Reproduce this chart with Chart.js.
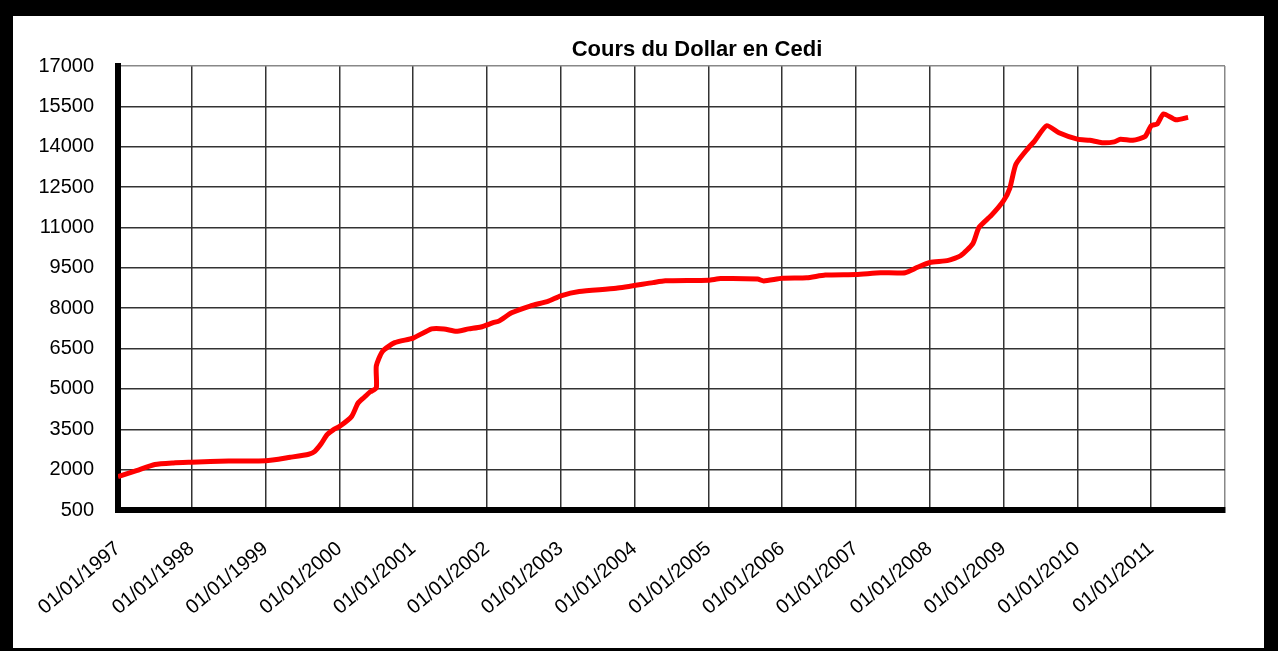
<!DOCTYPE html>
<html lang="fr">
<head>
  <meta charset="UTF-8" />
  <title>Cours du Dollar en Cedi</title>
  <script src="https://cdn.jsdelivr.net/npm/chart.js"></script>
  <style>
    body {
      margin: 0;
      background: #fff;
    }
    .cadre {
      width: 1251px;
      height: 632px;
      border-style: solid;
      border-color: #000;
      border-width: 16px 14px 3px 13px;
      background: #fff;
    }
  </style>
</head>
<body>
  <div class="cadre">
    <canvas id="graphique" width="1251" height="632"></canvas>
  </div>

  <script>
    const titre = "Cours du Dollar en Cedi";

    // étiquettes de l'axe des dates
    const yearLabels = ["01/01/1997", "01/01/1998", "01/01/1999", "01/01/2000", "01/01/2001",
      "01/01/2002", "01/01/2003", "01/01/2004", "01/01/2005", "01/01/2006", "01/01/2007",
      "01/01/2008", "01/01/2009", "01/01/2010", "01/01/2011"];

    // relevés (année-mois) et cours en cedi
    const dates = ["1997-01", "1997-04", "1997-07", "1997-10", "1998-01", "1998-07", "1999-01",
      "1999-05", "1999-08", "1999-09", "1999-10", "1999-11", "1999-12", "2000-01", "2000-03",
      "2000-04", "2000-05", "2000-06", "2000-07", "2000-07", "2000-08", "2000-10", "2001-01",
      "2001-04", "2001-06", "2001-08", "2001-10", "2001-12", "2002-02", "2002-03", "2002-05",
      "2002-08", "2002-11", "2003-01", "2003-04", "2003-10", "2004-04", "2004-06", "2005-01",
      "2005-03", "2005-09", "2005-10", "2006-01", "2006-05", "2006-08", "2007-01", "2007-05",
      "2007-09", "2007-11", "2008-01", "2008-04", "2008-06", "2008-08", "2008-09", "2008-11",
      "2009-01", "2009-02", "2009-03", "2009-05", "2009-06", "2009-08", "2009-10", "2010-01",
      "2010-03", "2010-05", "2010-07", "2010-08", "2010-10", "2010-12", "2011-01", "2011-02",
      "2011-03", "2011-05", "2011-07"];

    const cours = [1740, 1960, 2190, 2250, 2275, 2320, 2330,
      2460, 2570, 2680, 2950, 3300, 3480, 3600, 3980,
      4460, 4680, 4890, 5040, 5850, 6390, 6720, 6890,
      7230, 7230, 7140, 7230, 7300, 7460, 7530, 7830,
      8080, 8260, 8460, 8620, 8740, 8950, 9015, 9040,
      9100, 9080, 9010, 9110, 9130, 9230, 9255, 9315,
      9320, 9520, 9700, 9775, 9950, 10400, 11000, 11450,
      12000, 12450, 13350, 13950, 14200, 14780, 14520, 14280,
      14240, 14150, 14180, 14280, 14240, 14380, 14780, 14850,
      15220, 15000, 15090];

    const police = '"Liberation Sans", Arial, sans-serif';

    function enAnnee(d) {
      const [a, m] = d.split("-").map(Number);
      return a + (m - 1) / 12;
    }

    const points = dates.map((d, i) => ({ x: enAnnee(d), y: cours[i] }));

    // titre posé au-dessus de la zone du graphique
    const titrePlugin = {
      id: "titre",
      afterDraw(chart) {
        const ctx = chart.ctx;
        ctx.save();
        ctx.font = "bold 22px " + police;
        ctx.fillStyle = "#000";
        ctx.textAlign = "center";
        ctx.textBaseline = "middle";
        ctx.fillText(titre, 684, 34);
        ctx.restore();
      }
    };

    new Chart(document.getElementById("graphique"), {
      type: "line",
      data: {
        datasets: [{
          label: titre,
          data: points,
          borderColor: "#ff0000",
          borderWidth: 5,
          pointRadius: 0,
          tension: 0.2,
          fill: false
        }]
      },
      options: {
        responsive: false,
        animation: false,
        layout: { padding: { top: 50, right: 39, left: 0, bottom: 0 } },
        plugins: {
          legend: { display: false },
          tooltip: { enabled: false }
        },
        scales: {
          x: {
            type: "linear",
            min: 1997,
            max: 2012,
            afterFit: s => { s.height = 138; s.paddingRight = 0; },
            ticks: {
              stepSize: 1,
              autoSkip: false,
              minRotation: 40,
              maxRotation: 40,
              padding: 27,
              color: "#000",
              font: { family: police, size: 20 },
              callback: v => yearLabels[v - 1997] ?? ""
            },
            grid: {
              color: c => (c.tick && c.tick.value === 2012) ? "#888" : "#333",
              lineWidth: 1.5,
              drawTicks: false
            },
            border: { color: "#000", width: 6 }
          },
          y: {
            min: 500,
            max: 17000,
            afterFit: s => { s.width = 105; },
            ticks: {
              stepSize: 1500,
              padding: 24,
              color: "#000",
              font: { family: police, size: 20 },
              callback: v => String(v)
            },
            grid: {
              color: c => (c.tick && c.tick.value === 17000) ? "#888" : "#333",
              lineWidth: 1.5,
              drawTicks: false
            },
            border: { color: "#000", width: 6 }
          }
        }
      },
      plugins: [titrePlugin]
    });
  </script>
</body>
</html>
